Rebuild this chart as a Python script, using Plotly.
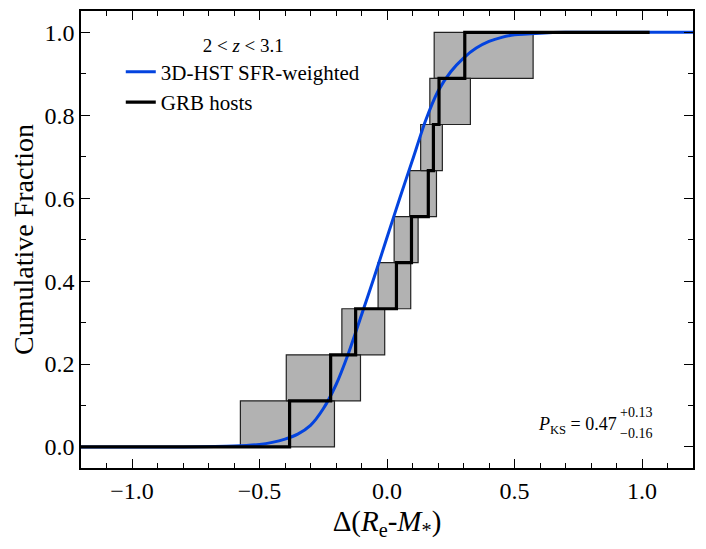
import plotly.graph_objects as go

# GRB host step CDF (x of each jump), 9 hosts
grb_steps = [-0.382, -0.221, -0.123, 0.037, 0.096, 0.162, 0.182, 0.204, 0.305]
grb_x_start = -1.2
grb_x_end = 1.03

# uncertainty boxes per CDF row (lower / upper x)
box_lo = [-0.575, -0.395, -0.177, -0.035, 0.028, 0.089, 0.132, 0.168, 0.185]
box_hi = [-0.206, -0.104, -0.009, 0.093, 0.122, 0.194, 0.217, 0.327, 0.573]

# 3D-HST SFR-weighted cumulative distribution
hst_x = [-1.2, -0.8, -0.6, -0.5, -0.45, -0.4, -0.35, -0.3, -0.25, -0.2, -0.15, -0.1,
         -0.05, 0.0, 0.05, 0.1, 0.15, 0.2, 0.25, 0.3, 0.35, 0.4, 0.45, 0.5, 0.6, 0.7, 1.2]
hst_y = [0.0, 0.0, 0.002, 0.006, 0.011, 0.019, 0.031, 0.052, 0.092, 0.150, 0.228, 0.318,
         0.410, 0.505, 0.600, 0.692, 0.785, 0.858, 0.905, 0.938, 0.962, 0.978, 0.988,
         0.994, 0.998, 1.0, 1.0]

n = len(grb_steps)
levels = [i / n for i in range(n + 1)]

FONT = "Liberation Serif, Times New Roman, serif"

# boxes as one filled trace, separated by None
bx, by = [], []
for i in range(n):
    y0, y1 = levels[i], levels[i + 1]
    bx += [box_lo[i], box_hi[i], box_hi[i], box_lo[i], box_lo[i], None]
    by += [y0, y0, y1, y1, y0, None]

grb_x = [grb_x_start] + grb_steps + [grb_x_end]
grb_y = [0.0] + levels[1:] + [1.0]

fig = go.Figure()
fig.add_trace(go.Scatter(x=bx, y=by, mode="lines", fill="toself",
                         fillcolor="#b2b2b2", line=dict(color="#222222", width=1.2),
                         showlegend=False, hoverinfo="skip"))
fig.add_trace(go.Scatter(x=hst_x, y=hst_y, mode="lines", name="3D-HST SFR-weighted",
                         line=dict(color="#0343df", width=3, shape="spline", smoothing=0.6)))
fig.add_trace(go.Scatter(x=grb_x, y=grb_y, mode="lines", name="GRB hosts",
                         line=dict(color="black", width=3.2, shape="hv")))

axis_common = dict(showline=True, linecolor="black", linewidth=1.5, mirror="ticks",
                   ticks="inside", ticklen=9, tickwidth=1.2, tickcolor="black",
                   showgrid=False, zeroline=False, automargin=False,
                   tickfont=dict(family=FONT, size=24, color="black"))

fig.update_xaxes(range=[-1.2, 1.2], dtick=0.5, tick0=0, tickformat=".1f",
                 minor=dict(ticks="inside", ticklen=5, dtick=0.1, tick0=0,
                            tickcolor="black", tickwidth=1),
                 title=dict(text="Δ(<i>R</i><sub>e</sub>-<i>M</i><sub>*</sub>)",
                            font=dict(family=FONT, size=29, color="black"), standoff=12),
                 **axis_common)
fig.update_yaxes(range=[-0.0508, 1.0515], dtick=0.2, tick0=0, tickformat=".1f",
                 minor=dict(ticks="inside", ticklen=5, dtick=0.1, tick0=0,
                            tickcolor="black", tickwidth=1),
                 title=dict(text="Cumulative Fraction",
                            font=dict(family=FONT, size=28, color="black"), standoff=6),
                 **axis_common)

fig.add_annotation(x=0.91, y=0.0525, xref="x", yref="y", xanchor="right",
                   text="<i>P</i><sub>KS</sub> = 0.47", showarrow=False,
                   font=dict(family=FONT, size=18, color="black"))
fig.add_annotation(x=0.905, y=0.0825, xref="x", yref="y", xanchor="left",
                   text="+0.13", showarrow=False,
                   font=dict(family=FONT, size=14, color="black"))
fig.add_annotation(x=0.905, y=0.033, xref="x", yref="y", xanchor="left",
                   text="−0.16", showarrow=False,
                   font=dict(family=FONT, size=14, color="black"))

# page body adds an 8px offset, so the figure is sized to fit inside the window
fig.update_layout(
    width=690, height=533,
    margin=dict(l=73, r=5, t=3, b=73),
    plot_bgcolor="white", paper_bgcolor="white",
    font=dict(family=FONT, color="black"),
    legend=dict(x=0.065, y=0.965, xanchor="left", yanchor="top",
                bgcolor="rgba(0,0,0,0)", borderwidth=0,
                font=dict(family=FONT, size=21, color="black"),
                title=dict(text="2 < <i>z</i> < 3.1", side="top center",
                           font=dict(family=FONT, size=19, color="black")),
                tracegroupgap=0),
)

fig.write_html("out.html")
